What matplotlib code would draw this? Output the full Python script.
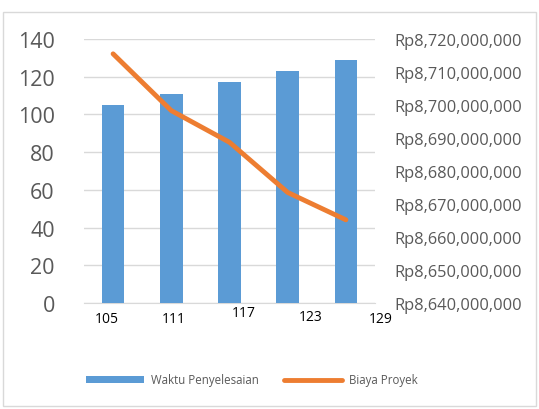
import matplotlib.pyplot as plt
from matplotlib.patches import Rectangle
from matplotlib.ticker import FuncFormatter

# data
categories = ["105", "111", "117", "123", "129"]
waktu = [105, 111, 117, 123, 129]
biaya = [8715500000, 8698300000, 8688700000, 8673500000, 8665200000]

blue = "#5b9bd5"
orange = "#ed7d31"
grey_text = "#595959"

plt.rcParams["font.family"] = ["Open Sans", "DejaVu Sans"]

fig = plt.figure(figsize=(5.39, 4.10), dpi=100)
ax = fig.add_axes([84 / 539, 1 - 304 / 410, 291 / 539, 264 / 410])

x = list(range(len(categories)))
bars = ax.bar(x, waktu, width=0.39, color=blue, zorder=3, label="Waktu Penyelesaian")
ax.set_xlim(-0.5, len(categories) - 0.5)
ax.set_ylim(0, 140)
ax.set_yticks(range(0, 141, 20))
ax.grid(axis="y", color="#d9d9d9", linewidth=1, zorder=0)
ax.tick_params(axis="y", length=0, labelsize=15.5, labelcolor=grey_text, pad=21)
ax.tick_params(axis="x", length=0)
ax.set_xticks([])
for s in ["top", "right", "left"]:
    ax.spines[s].set_visible(False)
ax.spines["bottom"].set_color("#d9d9d9")

# the x labels sit a little off the bars in the original
label_x = [-0.1, 1.05, 2.25, 3.4, 4.6]
label_y = [-0.057, -0.057, -0.035, -0.053, -0.06]
for lx, ly, t in zip(label_x, label_y, categories):
    ax.text(lx, ly, t, transform=ax.get_xaxis_transform(), ha="center", va="center",
            fontsize=10, color="black")

ax2 = ax.twinx()
line, = ax2.plot(x, biaya, color=orange, linewidth=3.5, solid_capstyle="round",
                 label="Biaya Proyek", zorder=4)
ax2.set_ylim(8640000000, 8720000000)
ax2.set_yticks(range(8640000000, 8720000001, 10000000))
ax2.yaxis.set_major_formatter(FuncFormatter(lambda v, p: "Rp{:,.0f}".format(v)))
ax2.tick_params(axis="y", length=0, labelsize=11.8, labelcolor=grey_text, pad=14)
for s in ax2.spines.values():
    s.set_visible(False)

fig.legend([bars, line], ["Waktu Penyelesaian", "Biaya Proyek"], loc="center",
           bbox_to_anchor=(252 / 539, 1 - 381 / 410), ncol=2, frameon=False,
           fontsize=8.3, labelcolor=grey_text, handlelength=5.0, handleheight=0.6,
           handletextpad=0.6, columnspacing=2.2)

fig.patches.append(Rectangle((3 / 539, 3 / 410), 533 / 539, 394 / 410, transform=fig.transFigure,
                             fill=False, edgecolor="#d9d9d9", linewidth=1))

fig.savefig("out.png", dpi=100)
